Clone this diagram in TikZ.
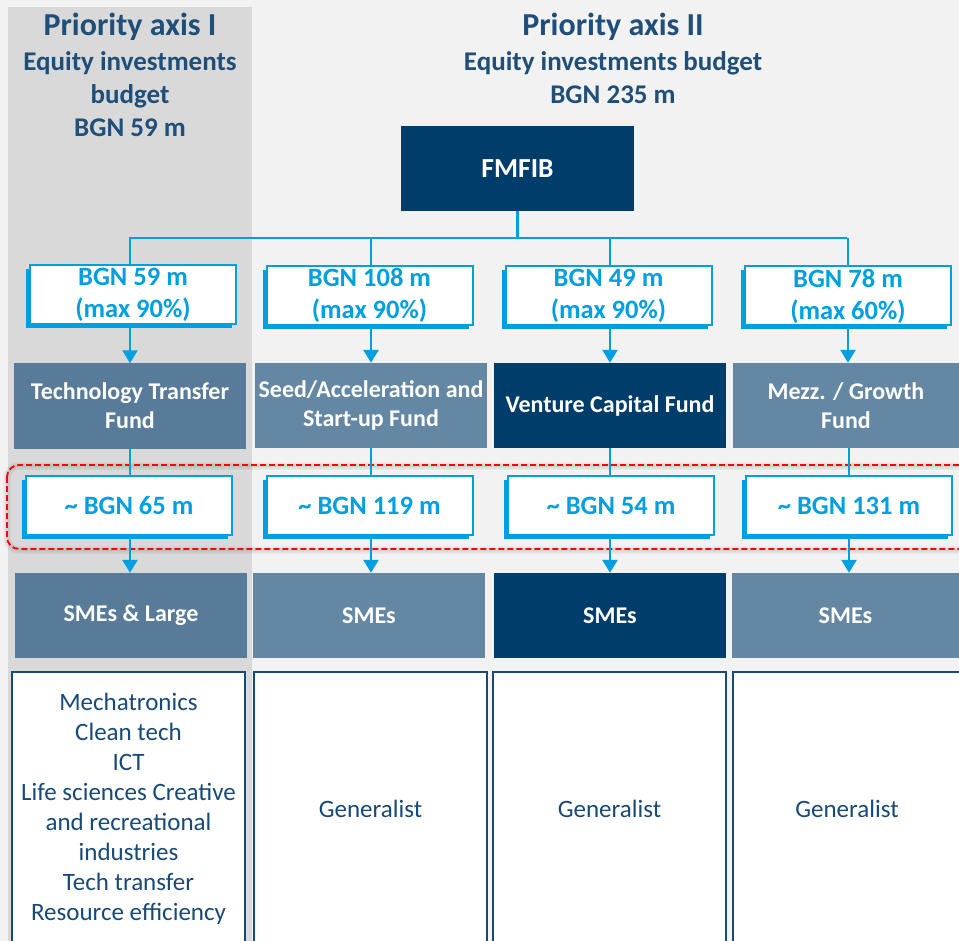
\documentclass[tikz,border=0pt]{standalone}
\usepackage{fontspec}
\setmainfont{Carlito}
\usetikzlibrary{arrows.meta,shadows}
\definecolor{bgc}{HTML}{F2F2F2}
\definecolor{band}{HTML}{D9D9D9}
\definecolor{hdr}{HTML}{1F4E79}
\definecolor{navy}{HTML}{003D6B}
\definecolor{bblue}{HTML}{00A0E0}
\definecolor{fundA}{HTML}{577B98}
\definecolor{fundB}{HTML}{6487A3}
\definecolor{txtnavy}{HTML}{174A78}
\tikzset{
  hdrtitle/.style={text=hdr, font=\bfseries\fontsize{32}{36}\selectfont, inner sep=0pt},
  hdrline/.style={text=hdr, font=\bfseries\fontsize{27}{30}\selectfont, inner sep=0pt},
  topbox/.style={fill=navy, text=white, font=\bfseries\fontsize{27.5}{30}\selectfont, minimum width=233pt, minimum height=85pt, inner sep=0pt},
  budbox/.style={draw=bblue, line width=2pt, fill=white, text=bblue, font=\bfseries\fontsize{26.5}{32}\selectfont,
    minimum width=206pt, minimum height=59pt, inner sep=0pt, align=center,
    general shadow={fill=bblue, shadow xshift=-4pt, shadow yshift=-4pt}},
  fundbox/.style={text=white, font=\bfseries\fontsize{24}{29}\selectfont, minimum width=232pt, minimum height=85pt, inner sep=0pt, align=center},
  infobox/.style={draw=txtnavy, line width=1.3pt, fill=white, text=txtnavy, font=\fontsize{25}{30}\selectfont,
    minimum width=233pt, minimum height=273pt, inner sep=0pt, align=center},
  conn/.style={draw=bblue, line width=2.5pt},
  arr/.style={draw=bblue, line width=2.5pt, -{Triangle[width=15pt,length=13pt]}},
}
\begin{document}
\begin{tikzpicture}[x=1pt,y=-1pt]
\useasboundingbox (0,0) rectangle (959,941);
\begin{scope}
\clip (0,0) rectangle (959,941);
\fill[bgc] (0,0) rectangle (959,941);
\fill[band] (8,7) rectangle (252,941);

% headers
\node[hdrtitle] (h1a) at (130,27) {Priority axis I};
\node[hdrline] (h1b) at (130,63) {Equity investments};
\node[hdrline] (h1c) at (130,96) {budget};
\node[hdrline] (h1d) at (130,128) {BGN 59 m};
\node[hdrtitle] (h2a) at (613,27) {Priority axis II};
\node[hdrline] (h2b) at (613,63) {Equity investments budget};
\node[hdrline] (h2c) at (613,95) {BGN 235 m};

% top box
\node[topbox] (fmfib) at (517.5,168.5) {FMFIB};

% red dashed highlight
\draw[black, opacity=0.06, line width=7pt, rounded corners=12pt] (7,466) rectangle (980,550);
\draw[black, opacity=0.05, line width=3pt, rounded corners=12pt] (7,466) rectangle (980,550);
\draw[red, line width=1.8pt, rounded corners=12pt, dash pattern=on 6pt off 3pt] (7,465) rectangle (980,549);

% budget boxes
\node[budbox] (bud1) at (133,295) {BGN 59 m\\(max 90\%)};
\node[budbox] (bud2) at (369.5,295.5) {BGN 108 m\\(max 90\%)};
\node[budbox] (bud3) at (608.5,296) {BGN 49 m\\(max 90\%)};
\node[budbox] (bud4) at (848,296) {BGN 78 m\\(max 60\%)};

% fund boxes
\node[fundbox, fill=fundA] (fund1) at (130,406) {Technology Transfer\\Fund};
\node[fundbox, fill=fundB] (fund2) at (371,405.5) {Seed/Acceleration and\\Start-up Fund};
\node[fundbox, fill=navy] (fund3) at (610,405.5) {Venture Capital Fund};
\node[fundbox, fill=fundB, minimum width=226pt] (fund4) at (846,405.5) {Mezz. / Growth\\Fund};

% approx amount boxes
\node[budbox] (amt1) at (129,505.5) {\textasciitilde{} BGN 65 m};
\node[budbox] (amt2) at (369.5,505.5) {\textasciitilde{} BGN 119 m};
\node[budbox] (amt3) at (611,505.5) {\textasciitilde{} BGN 54 m};
\node[budbox] (amt4) at (849,505.5) {\textasciitilde{} BGN 131 m};

% SMEs boxes
\node[fundbox, fill=fundA] (sme1) at (131,615.5) {SMEs \& Large};
\node[fundbox, fill=fundB] (sme2) at (369,615.5) {SMEs};
\node[fundbox, fill=navy] (sme3) at (610,615.5) {SMEs};
\node[fundbox, fill=fundB, minimum width=227pt] (sme4) at (845.5,615.5) {SMEs};

% info boxes
\node[infobox] (inf1) at (128.5,808.5) {Mechatronics\\Clean tech\\ICT\\Life sciences Creative\\and recreational\\industries\\Tech transfer\\Resource efficiency};
\node[infobox] (inf2) at (370.5,808.5) {Generalist};
\node[infobox] (inf3) at (609.5,808.5) {Generalist};
\node[infobox, minimum width=228pt] (inf4) at (847,808.5) {Generalist};

% connectors
\coordinate (hub) at (517.5,238);
\draw[conn] (fmfib.south) -- (hub);
\draw[conn, line cap=rect] (fund1.north |- hub) -- (fund4.north |- hub);
\draw[conn] (fund1.north |- hub) -- (fund1.north |- bud1.north);
\draw[conn] (fund2.north |- hub) -- (fund2.north |- bud2.north);
\draw[conn] (fund3.north |- hub) -- (fund3.north |- bud3.north);
\draw[conn] (bud4.north |- hub) -- (bud4.north);

\draw[arr] (fund1.north |- bud1.south) -- (fund1.north);
\draw[arr] (fund2.north |- bud2.south) -- (fund2.north);
\draw[arr] (fund3.north |- bud3.south) -- (fund3.north);
\draw[arr] (bud4.south) -- (bud4.south |- fund4.north);

\draw[conn] (fund1.south) -- (fund1.south |- amt1.north);
\draw[conn] (fund2.south) -- (fund2.south |- amt2.north);
\draw[conn] (fund3.south) -- (fund3.south |- amt3.north);
\draw[conn] (amt4.north |- fund4.south) -- (amt4.north);

\draw[arr] (fund1.south |- amt1.south) -- (fund1.south |- sme1.north);
\draw[arr] (fund2.south |- amt2.south) -- (fund2.south |- sme2.north);
\draw[arr] (fund3.south |- amt3.south) -- (fund3.south |- sme3.north);
\draw[arr] (amt4.south) -- (amt4.south |- sme4.north);
\end{scope}
\end{tikzpicture}
\end{document}
